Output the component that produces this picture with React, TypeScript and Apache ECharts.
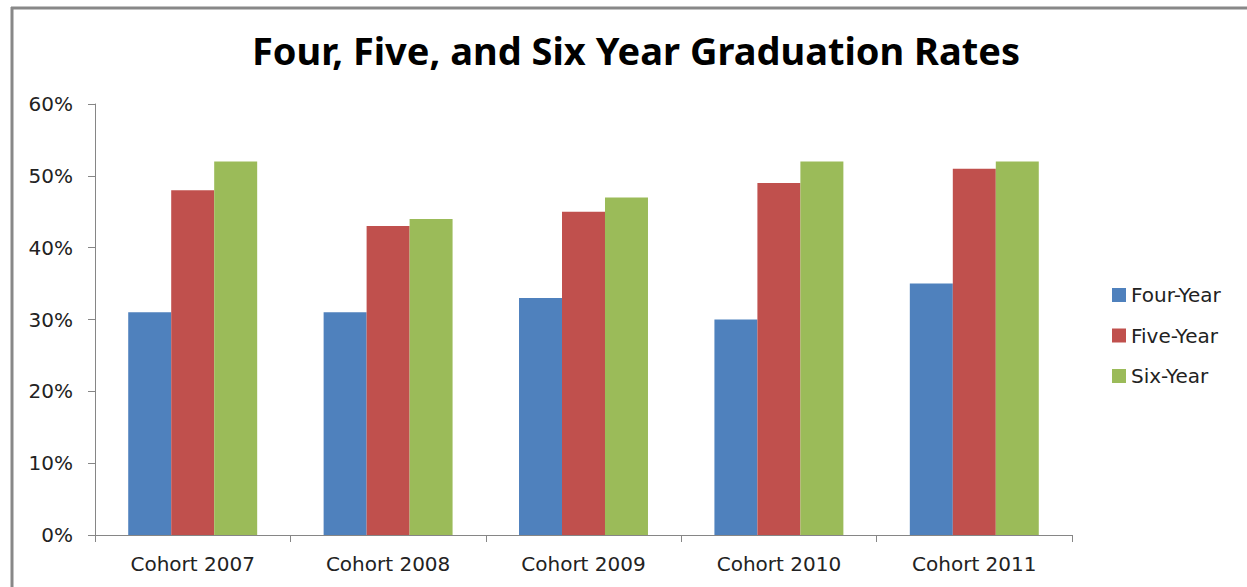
import React, { useEffect, useRef } from "react";
import * as echarts from "echarts";

const categories = ["Cohort 2007", "Cohort 2008", "Cohort 2009", "Cohort 2010", "Cohort 2011"];
const fourYear = [31, 31, 33, 30, 35];
const fiveYear = [48, 43, 45, 49, 51];
const sixYear = [52, 44, 47, 52, 52];
const seriesNames = ["Four-Year", "Five-Year", "Six-Year"];
const colors = ["#4F81BD", "#C0504D", "#9BBB59"];

export default function App() {
  const ref = useRef<HTMLDivElement>(null);
  useEffect(() => {
    document.body.style.margin = "0";
    const chart = echarts.init(ref.current!, undefined, { renderer: "svg" });
    const font = "'DejaVu Sans', sans-serif";
    const data = [fourYear, fiveYear, sixYear];
    chart.setOption({
      animation: false,
      backgroundColor: "#ffffff",
      title: {
        text: "Four, Five, and Six Year Graduation Rates",
        left: 631,
        textAlign: "center",
        top: 26,
        textStyle: { fontFamily: "'Noto Sans', sans-serif", fontWeight: "bold", fontSize: 38, color: "#000" },
      },
      legend: {
        orient: "vertical",
        left: 1107,
        top: 280,
        itemWidth: 14,
        itemHeight: 14,
        itemGap: 20.5,
        icon: "rect",
        textStyle: { fontFamily: font, fontSize: 20, color: "#222" },
        data: seriesNames,
      },
      grid: { left: 95, right: 175, top: 104, bottom: 52, containLabel: false },
      xAxis: {
        type: "category",
        data: categories,
        axisLine: { lineStyle: { color: "#868686", width: 1 } },
        axisTick: { show: true, length: 7, lineStyle: { color: "#868686" } },
        axisLabel: { fontFamily: font, fontSize: 20, color: "#222", margin: 19 },
      },
      yAxis: {
        type: "value",
        min: 0,
        max: 60,
        interval: 10,
        axisLine: { show: true, lineStyle: { color: "#868686", width: 1 } },
        axisTick: { show: true, length: 7, lineStyle: { color: "#868686" } },
        splitLine: { show: false },
        axisLabel: { formatter: "{value}%", fontFamily: font, fontSize: 20, color: "#222", margin: 22 },
      },
      series: seriesNames.map((name, i) => ({
        name,
        type: "bar",
        data: data[i],
        barGap: "0%",
        barCategoryGap: "34%",
        itemStyle: { color: colors[i] },
      })),
      graphic: [
        { type: "line", shape: { x1: 11, y1: 8, x2: 1247, y2: 8 }, style: { stroke: "#888", lineWidth: 3 } },
        { type: "line", shape: { x1: 12, y1: 7, x2: 12, y2: 587 }, style: { stroke: "#888", lineWidth: 3 } },
      ],
    });
    return () => chart.dispose();
  }, []);
  return <div ref={ref} style={{ width: 1247, height: 587 }} />;
}
